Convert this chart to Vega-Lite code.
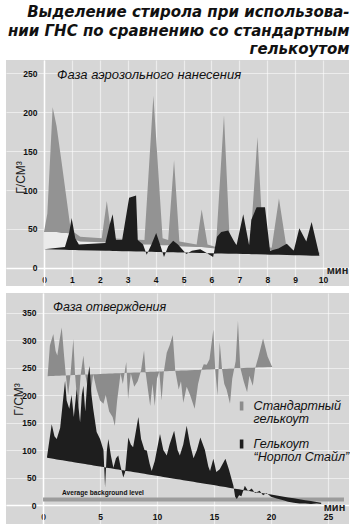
{
  "$schema": "https://vega.github.io/schema/vega-lite/v6.json",
  "padding": {"left": 6, "top": 5, "right": 0, "bottom": 0},
  "background": "white",
  "title": {
    "text": ["Выделение стирола при использова-", "нии ГНС по сравнению со стандартным", "гелькоутом"],
    "anchor": "end", "align": "right", "font": "DejaVu Sans", "fontSize": 15, "fontWeight": "bold", "fontStyle": "italic",
    "lineHeight": 18.5, "offset": 3, "color": "#111"
  },
  "datasets": {
    "topStd": [
      {"t": 0.0, "std": 46, "lo": 46, "b": 24.0},
      {"t": 0.12, "std": 70, "lo": 46, "b": 23.9},
      {"t": 0.31, "std": 206, "lo": 46, "b": 23.7},
      {"t": 0.45, "std": 182, "lo": 46, "b": 23.6},
      {"t": 0.63, "std": 136, "lo": 45, "b": 23.5},
      {"t": 0.81, "std": 88, "lo": 45, "b": 23.3},
      {"t": 0.96, "std": 48, "lo": 44, "b": 23.2},
      {"t": 1.15, "std": 44, "lo": 36, "b": 23.0},
      {"t": 1.3, "std": 40, "lo": 34, "b": 22.9},
      {"t": 2.07, "std": 38, "lo": 33, "b": 22.2},
      {"t": 2.25, "std": 86, "lo": 33, "b": 22.1},
      {"t": 2.43, "std": 38, "lo": 33, "b": 21.9},
      {"t": 3.0, "std": 37, "lo": 32, "b": 21.5},
      {"t": 3.6, "std": 36, "lo": 30, "b": 20.9},
      {"t": 3.92, "std": 221, "lo": 30, "b": 20.7},
      {"t": 4.25, "std": 38, "lo": 29, "b": 20.4},
      {"t": 4.45, "std": 36, "lo": 29, "b": 20.2},
      {"t": 4.66, "std": 138, "lo": 29, "b": 20.0},
      {"t": 4.85, "std": 34, "lo": 28, "b": 19.9},
      {"t": 5.47, "std": 30, "lo": 27, "b": 19.4},
      {"t": 5.65, "std": 75, "lo": 27, "b": 19.2},
      {"t": 5.86, "std": 30, "lo": 26, "b": 19.0},
      {"t": 6.16, "std": 27, "lo": 25, "b": 18.8},
      {"t": 6.45, "std": 196, "lo": 25, "b": 18.5},
      {"t": 6.66, "std": 30, "lo": 25, "b": 18.3},
      {"t": 7.39, "std": 30, "lo": 24, "b": 17.7},
      {"t": 7.65, "std": 168, "lo": 24, "b": 17.5},
      {"t": 7.86, "std": 28, "lo": 23, "b": 17.3},
      {"t": 8.16, "std": 26, "lo": 23, "b": 17.1},
      {"t": 8.42, "std": 89, "lo": 23, "b": 16.8},
      {"t": 8.7, "std": 24, "lo": 22, "b": 16.6},
      {"t": 9.87, "std": 20, "lo": 18, "b": 15.6}
    ],
    "topNor": [
      {"t": 0.0, "v": 24, "b": 24.0},
      {"t": 0.75, "v": 27, "b": 23.4},
      {"t": 0.9, "v": 45, "b": 23.2},
      {"t": 0.99, "v": 64, "b": 23.2},
      {"t": 1.12, "v": 38, "b": 23.0},
      {"t": 1.25, "v": 30, "b": 22.9},
      {"t": 2.2, "v": 32, "b": 22.1},
      {"t": 2.35, "v": 55, "b": 22.0},
      {"t": 2.46, "v": 69, "b": 21.9},
      {"t": 2.58, "v": 36, "b": 21.8},
      {"t": 2.8, "v": 36, "b": 21.6},
      {"t": 3.05, "v": 90, "b": 21.4},
      {"t": 3.3, "v": 93, "b": 21.2},
      {"t": 3.36, "v": 36, "b": 21.1},
      {"t": 3.55, "v": 30, "b": 21.0},
      {"t": 3.68, "v": 17, "b": 20.9},
      {"t": 3.85, "v": 30, "b": 20.7},
      {"t": 4.02, "v": 45, "b": 20.6},
      {"t": 4.18, "v": 28, "b": 20.4},
      {"t": 4.3, "v": 14, "b": 20.3},
      {"t": 4.45, "v": 28, "b": 20.2},
      {"t": 4.63, "v": 35, "b": 20.1},
      {"t": 4.8, "v": 30, "b": 19.9},
      {"t": 5.1, "v": 18, "b": 19.7},
      {"t": 5.3, "v": 22, "b": 19.5},
      {"t": 5.6, "v": 24, "b": 19.2},
      {"t": 5.8, "v": 20, "b": 19.1},
      {"t": 6.06, "v": 14, "b": 18.8},
      {"t": 6.2, "v": 40, "b": 18.7},
      {"t": 6.35, "v": 46, "b": 18.6},
      {"t": 6.6, "v": 48, "b": 18.4},
      {"t": 6.8, "v": 35, "b": 18.2},
      {"t": 6.9, "v": 29, "b": 18.1},
      {"t": 7.14, "v": 69, "b": 17.9},
      {"t": 7.35, "v": 29, "b": 17.8},
      {"t": 7.43, "v": 62, "b": 17.7},
      {"t": 7.62, "v": 78, "b": 17.5},
      {"t": 7.92, "v": 78, "b": 17.3},
      {"t": 8.1, "v": 22, "b": 17.1},
      {"t": 8.4, "v": 25, "b": 16.9},
      {"t": 8.7, "v": 31, "b": 16.6},
      {"t": 8.95, "v": 22, "b": 16.4},
      {"t": 9.15, "v": 51, "b": 16.2},
      {"t": 9.4, "v": 34, "b": 16.0},
      {"t": 9.59, "v": 59, "b": 15.8},
      {"t": 9.87, "v": 16, "b": 15.6}
    ],
    "botStd": [
      {"t": 0.4, "v": 234, "b": 234.3},
      {"t": 0.6, "v": 290, "b": 234.5},
      {"t": 0.9, "v": 311, "b": 234.8},
      {"t": 1.1, "v": 280, "b": 234.9},
      {"t": 1.25, "v": 272, "b": 235.1},
      {"t": 1.45, "v": 300, "b": 235.2},
      {"t": 1.64, "v": 323, "b": 235.4},
      {"t": 1.85, "v": 270, "b": 235.6},
      {"t": 2.0, "v": 236, "b": 235.7},
      {"t": 2.2, "v": 200, "b": 235.9},
      {"t": 2.4, "v": 236, "b": 236.1},
      {"t": 2.66, "v": 302, "b": 236.3},
      {"t": 2.8, "v": 240, "b": 236.4},
      {"t": 2.95, "v": 200, "b": 236.5},
      {"t": 3.1, "v": 178, "b": 236.7},
      {"t": 3.3, "v": 237, "b": 236.8},
      {"t": 3.54, "v": 272, "b": 237.0},
      {"t": 3.7, "v": 238, "b": 237.2},
      {"t": 3.9, "v": 215, "b": 237.4},
      {"t": 4.1, "v": 190, "b": 237.5},
      {"t": 4.4, "v": 238, "b": 237.8},
      {"t": 4.7, "v": 210, "b": 238.0},
      {"t": 5.0, "v": 190, "b": 238.3},
      {"t": 5.3, "v": 184, "b": 238.6},
      {"t": 5.5, "v": 200, "b": 238.7},
      {"t": 5.8, "v": 170, "b": 239.0},
      {"t": 6.1, "v": 160, "b": 239.2},
      {"t": 6.3, "v": 144, "b": 239.4},
      {"t": 6.5, "v": 190, "b": 239.6},
      {"t": 6.8, "v": 239, "b": 239.8},
      {"t": 7.0, "v": 220, "b": 240.0},
      {"t": 7.3, "v": 260, "b": 240.3},
      {"t": 7.46, "v": 193, "b": 240.4},
      {"t": 7.7, "v": 239, "b": 240.6},
      {"t": 8.0, "v": 215, "b": 240.9},
      {"t": 8.3, "v": 225, "b": 241.1},
      {"t": 8.6, "v": 245, "b": 241.4},
      {"t": 8.86, "v": 281, "b": 241.6},
      {"t": 9.0, "v": 241, "b": 241.7},
      {"t": 9.2, "v": 210, "b": 241.9},
      {"t": 9.4, "v": 180, "b": 242.1},
      {"t": 9.6, "v": 220, "b": 242.3},
      {"t": 9.8, "v": 180, "b": 242.4},
      {"t": 10.0, "v": 230, "b": 242.6},
      {"t": 10.2, "v": 243, "b": 242.8},
      {"t": 10.4, "v": 190, "b": 242.9},
      {"t": 10.6, "v": 243, "b": 243.1},
      {"t": 10.85, "v": 277, "b": 243.3},
      {"t": 11.1, "v": 290, "b": 243.5},
      {"t": 11.38, "v": 309, "b": 243.8},
      {"t": 11.6, "v": 244, "b": 244.0},
      {"t": 11.9, "v": 210, "b": 244.2},
      {"t": 12.1, "v": 225, "b": 244.4},
      {"t": 12.3, "v": 186, "b": 244.6},
      {"t": 12.6, "v": 215, "b": 244.8},
      {"t": 12.9, "v": 200, "b": 245.1},
      {"t": 13.3, "v": 175, "b": 245.4},
      {"t": 13.6, "v": 220, "b": 245.7},
      {"t": 13.9, "v": 246, "b": 246.0},
      {"t": 14.1, "v": 256, "b": 246.1},
      {"t": 14.36, "v": 255, "b": 246.3},
      {"t": 14.6, "v": 265, "b": 246.6},
      {"t": 14.94, "v": 319, "b": 246.8},
      {"t": 15.1, "v": 248, "b": 247.0},
      {"t": 15.3, "v": 199, "b": 247.2},
      {"t": 15.5, "v": 296, "b": 247.3},
      {"t": 15.7, "v": 248, "b": 247.5},
      {"t": 15.9, "v": 220, "b": 247.7},
      {"t": 16.1, "v": 210, "b": 247.8},
      {"t": 16.4, "v": 184, "b": 248.1},
      {"t": 16.6, "v": 230, "b": 248.3},
      {"t": 16.9, "v": 262, "b": 248.5},
      {"t": 17.1, "v": 335, "b": 248.7},
      {"t": 17.3, "v": 250, "b": 248.9},
      {"t": 17.6, "v": 225, "b": 249.1},
      {"t": 17.9, "v": 205, "b": 249.4},
      {"t": 18.1, "v": 235, "b": 249.6},
      {"t": 18.4, "v": 217, "b": 249.8},
      {"t": 18.6, "v": 248, "b": 250.0},
      {"t": 18.9, "v": 270, "b": 250.3},
      {"t": 19.3, "v": 303, "b": 250.6},
      {"t": 19.7, "v": 270, "b": 250.9},
      {"t": 20.1, "v": 251, "b": 251.3}
    ],
    "botNor": [
      {"t": 0.35, "v": 88, "b": 85.8},
      {"t": 0.76, "v": 147, "b": 84.4},
      {"t": 1.0, "v": 125, "b": 83.6},
      {"t": 1.2, "v": 120, "b": 82.9},
      {"t": 1.5, "v": 140, "b": 81.9},
      {"t": 1.7, "v": 180, "b": 81.2},
      {"t": 1.93, "v": 226, "b": 80.4},
      {"t": 2.07, "v": 190, "b": 80.0},
      {"t": 2.3, "v": 175, "b": 79.2},
      {"t": 2.5, "v": 200, "b": 78.5},
      {"t": 2.7, "v": 160, "b": 77.8},
      {"t": 2.95, "v": 211, "b": 77.0},
      {"t": 3.1, "v": 180, "b": 76.5},
      {"t": 3.25, "v": 150, "b": 76.0},
      {"t": 3.4, "v": 200, "b": 75.4},
      {"t": 3.54, "v": 217, "b": 75.0},
      {"t": 3.7, "v": 170, "b": 74.4},
      {"t": 3.9, "v": 230, "b": 73.7},
      {"t": 4.07, "v": 253, "b": 73.2},
      {"t": 4.25, "v": 200, "b": 72.6},
      {"t": 4.4, "v": 175, "b": 72.0},
      {"t": 4.7, "v": 133, "b": 71.0},
      {"t": 5.0, "v": 120, "b": 70.0},
      {"t": 5.3, "v": 100, "b": 69.0},
      {"t": 5.44, "v": 32, "b": 68.5},
      {"t": 5.6, "v": 100, "b": 68.0},
      {"t": 5.73, "v": 120, "b": 67.5},
      {"t": 5.95, "v": 90, "b": 66.8},
      {"t": 6.17, "v": 68, "b": 66.0},
      {"t": 6.4, "v": 85, "b": 65.2},
      {"t": 6.6, "v": 90, "b": 64.6},
      {"t": 6.8, "v": 70, "b": 63.9},
      {"t": 7.04, "v": 50, "b": 63.1},
      {"t": 7.2, "v": 60, "b": 62.5},
      {"t": 7.48, "v": 123, "b": 61.6},
      {"t": 7.7, "v": 110, "b": 60.8},
      {"t": 7.9, "v": 105, "b": 60.1},
      {"t": 8.36, "v": 160, "b": 58.6},
      {"t": 8.6, "v": 120, "b": 57.8},
      {"t": 8.9, "v": 100, "b": 56.7},
      {"t": 9.1, "v": 99, "b": 56.1},
      {"t": 9.35, "v": 75, "b": 55.2},
      {"t": 9.53, "v": 62, "b": 54.6},
      {"t": 9.8, "v": 80, "b": 53.7},
      {"t": 10.26, "v": 129, "b": 52.1},
      {"t": 10.55, "v": 100, "b": 51.1},
      {"t": 10.85, "v": 90, "b": 50.1},
      {"t": 11.1, "v": 110, "b": 49.3},
      {"t": 11.5, "v": 135, "b": 47.9},
      {"t": 11.8, "v": 100, "b": 46.9},
      {"t": 12.0, "v": 90, "b": 46.2},
      {"t": 12.3, "v": 110, "b": 45.2},
      {"t": 12.6, "v": 144, "b": 44.2},
      {"t": 12.9, "v": 110, "b": 43.1},
      {"t": 13.2, "v": 85, "b": 42.1},
      {"t": 13.5, "v": 100, "b": 41.1},
      {"t": 13.8, "v": 123, "b": 40.1},
      {"t": 14.2, "v": 100, "b": 38.7},
      {"t": 14.5, "v": 70, "b": 37.7},
      {"t": 14.65, "v": 62, "b": 37.2},
      {"t": 14.94, "v": 84, "b": 36.2},
      {"t": 15.2, "v": 60, "b": 35.3},
      {"t": 15.5, "v": 65, "b": 34.3},
      {"t": 16.0, "v": 84, "b": 32.6},
      {"t": 16.3, "v": 65, "b": 31.6},
      {"t": 16.7, "v": 35, "b": 30.2},
      {"t": 16.85, "v": 15, "b": 29.7},
      {"t": 17.0, "v": 11, "b": 29.2},
      {"t": 17.2, "v": 18, "b": 28.5},
      {"t": 17.4, "v": 16, "b": 27.8},
      {"t": 17.7, "v": 35, "b": 26.8},
      {"t": 18.0, "v": 25, "b": 25.8},
      {"t": 18.3, "v": 30, "b": 24.8},
      {"t": 18.6, "v": 22, "b": 23.8},
      {"t": 19.0, "v": 26, "b": 22.4},
      {"t": 19.3, "v": 18, "b": 21.4},
      {"t": 19.6, "v": 22, "b": 20.4},
      {"t": 20.0, "v": 15, "b": 19.0},
      {"t": 20.5, "v": 12, "b": 17.3},
      {"t": 21.0, "v": 9, "b": 15.6},
      {"t": 21.5, "v": 6, "b": 13.9},
      {"t": 22.0, "v": 4, "b": 12.2},
      {"t": 22.5, "v": 3, "b": 10.5},
      {"t": 23.0, "v": 3, "b": 8.8},
      {"t": 23.5, "v": 2, "b": 7.1},
      {"t": 24.0, "v": 3, "b": 5.4},
      {"t": 24.4, "v": 2, "b": 4.0}
    ]
  },
  "spacing": 7,
  "vconcat": [
    {
      "width": 343,
      "height": 226,
      "layer": [
        {
          "data": {"name": "topStd"},
          "mark": {"type": "area", "color": "#ebebeb"},
          "encoding": {
            "x": {"field": "t", "type": "quantitative", "title": "мин",
              "scale": {"domain": [-1.362, 10.93], "nice": false, "zero": false},
              "axis": {"values": [0, 1, 2, 3, 4, 5, 6, 7, 8, 9, 10], "tickCount": 30, "format": "d", "offset": -18, "labelPadding": 7.5, "labelOverlap": false,
                "titleX": 331, "titleY": 5, "titleBaseline": "alphabetic", "titleAlign": "center",
                "titleFontWeight": "bold", "titleFontSize": 11, "titleFont": "Liberation Sans"}},
            "y": {"field": "lo", "type": "quantitative", "title": "Г/СМ³",
              "scale": {"domain": [-23.1, 266.7], "nice": false, "zero": false},
              "axis": {"values": [0, 50, 100, 150, 200, 250], "tickCount": 30, "format": "d", "offset": -38, "labelPadding": 7, "labelOverlap": false,
                "titleX": -24, "titleY": 117, "titleBaseline": "middle", "titleAlign": "center", "titleAngle": -90}},
            "y2": {"field": "b"}
          }
        },
        {
          "data": {"name": "topStd"},
          "mark": {"type": "area", "color": "#939393"},
          "encoding": {
            "x": {"field": "t", "type": "quantitative", "title": "мин"},
            "y": {"field": "std", "type": "quantitative", "title": "Г/СМ³"},
            "y2": {"field": "lo"}
          }
        },
        {
          "data": {"name": "topNor"},
          "mark": {"type": "area", "color": "#1e1e1e"},
          "encoding": {
            "x": {"field": "t", "type": "quantitative", "title": "мин"},
            "y": {"field": "v", "type": "quantitative", "title": "Г/СМ³"},
            "y2": {"field": "b"}
          }
        },
        {
          "data": {"values": [{}]},
          "mark": {"type": "text", "text": "Фаза аэрозольного нанесения", "align": "left", "baseline": "alphabetic",
            "font": "Liberation Sans", "fontStyle": "italic", "fontSize": 13, "color": "#111"},
          "encoding": {
            "x": {"datum": 0.47, "type": "quantitative"},
            "y": {"datum": 242, "type": "quantitative"}
          }
        }
      ]
    },
    {
      "width": 343,
      "height": 231,
      "layer": [
        {
          "data": {"name": "botStd"},
          "mark": {"type": "area"},
          "encoding": {
            "x": {"field": "t", "type": "quantitative", "title": "мин",
              "scale": {"domain": [-3.25, 26.84], "nice": false, "zero": false},
              "axis": {"values": [0, 5, 10, 15, 20, 25], "tickCount": 30, "format": "d", "offset": -19, "labelPadding": 7.5, "labelOverlap": false,
                "titleX": 328, "titleY": 5, "titleBaseline": "alphabetic", "titleAlign": "center",
                "titleFontWeight": "bold", "titleFontSize": 11, "titleFont": "Liberation Sans"}},
            "y": {"field": "v", "type": "quantitative", "title": "Г/СМ³",
              "scale": {"domain": [-34.5, 385.5], "nice": false, "zero": false},
              "axis": {"values": [0, 50, 100, 150, 200, 250, 300, 350], "tickCount": 30, "format": "d", "offset": -37, "labelPadding": 7, "labelOverlap": false,
                "titleX": -25, "titleY": 106, "titleBaseline": "middle", "titleAlign": "center", "titleAngle": -90}},
            "y2": {"field": "b"},
            "color": {"datum": "Стандартный гелькоут",
              "scale": {"domain": ["Стандартный гелькоут", "Гелькоут “Норпол Стайл”"], "range": ["#8c8c8c", "#1e1e1e"]},
              "legend": {"orient": "none", "legendX": 226.6, "legendY": 337, "title": null,
                "symbolType": "M-0.2,-0.5H0.2V0.5H-0.2Z", "symbolSize": 324, "symbolStrokeWidth": 0, "symbolOpacity": 1,
                "labelFont": "Liberation Sans", "labelFontSize": 12.5, "labelFontStyle": "italic", "labelColor": "#111",
                "labelOffset": 3, "labelLimit": 200, "rowPadding": 10,
                "encode": {"labels": {"update": {"lineHeight": {"value": 12.5}}}},
                "labelExpr": "datum.label == 'Стандартный гелькоут' ? ['Стандартный', 'гелькоут'] : ['Гелькоут', '“Норпол Стайл”']"}}
          }
        },
        {
          "data": {"values": [{}]},
          "mark": {"type": "rule", "color": "#9c9c9c", "strokeWidth": 4},
          "encoding": {
            "x": {"datum": 0, "type": "quantitative"},
            "x2": {"datum": 26.4},
            "y": {"datum": 10, "type": "quantitative"}
          }
        },
        {
          "data": {"name": "botNor"},
          "mark": {"type": "area"},
          "encoding": {
            "x": {"field": "t", "type": "quantitative", "title": "мин"},
            "y": {"field": "v", "type": "quantitative", "title": "Г/СМ³"},
            "y2": {"field": "b"},
            "color": {"datum": "Гелькоут “Норпол Стайл”"}
          }
        },
        {
          "data": {"values": [{}]},
          "mark": {"type": "text", "text": "Фаза отверждения", "align": "left", "baseline": "alphabetic",
            "font": "Liberation Sans", "fontStyle": "italic", "fontSize": 12.5, "color": "#111"},
          "encoding": {
            "x": {"datum": 0.88, "type": "quantitative"},
            "y": {"datum": 353, "type": "quantitative"}
          }
        },
        {
          "data": {"values": [{}]},
          "mark": {"type": "text", "text": "Average background level", "align": "left", "baseline": "alphabetic",
            "font": "Liberation Sans", "fontWeight": "bold", "fontSize": 6.6, "color": "#111"},
          "encoding": {
            "x": {"datum": 1.67, "type": "quantitative"},
            "y": {"datum": 18, "type": "quantitative"}
          }
        }
      ]
    }
  ],
  "config": {
    "view": {"stroke": null, "fill": "#d6d6d6"},
    "axis": {
      "domainColor": "white", "domainWidth": 1.5, "ticks": false, "labelOverlap": false,
      "gridColor": "white", "gridOpacity": 0.55, "gridWidth": 1.2,
      "labelFont": "Liberation Sans", "labelFontWeight": "bold", "labelFontSize": 8.5, "labelColor": "#111",
      "titleFont": "Liberation Sans", "titleFontWeight": "normal", "titleFontSize": 12, "titleColor": "#222"
    }
  }
}
